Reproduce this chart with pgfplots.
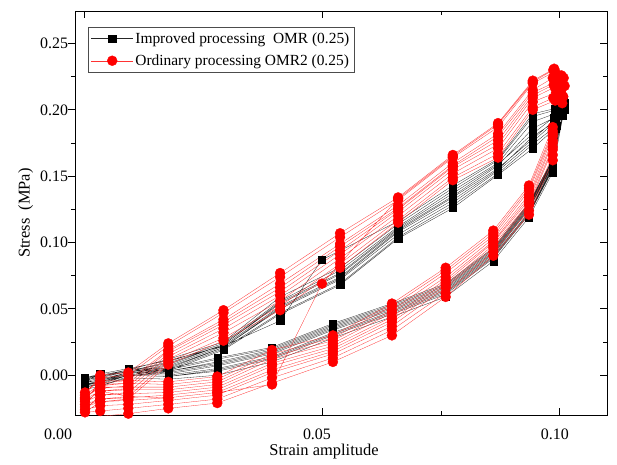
\documentclass[border=0pt]{standalone}
\usepackage{fontspec}
\setmainfont{Liberation Serif}
\usepackage{pgfplots}
\pgfplotsset{compat=1.18}
\begin{document}
\begin{tikzpicture}
\path[use as bounding box] (-75bp,-50bp) rectangle (542bp,415bp);
\begin{axis}[
  scale only axis, width=532bp, height=404bp,
  xmin=-0.0019, xmax=0.1099, ymin=-0.030, ymax=0.2745,
  xtick={0.05,0.1}, ytick={0,0.05,0.10,0.15,0.20,0.25},
  extra x ticks={0},
  extra x tick style={xticklabel style={xshift=-21bp}},
  minor tick num=1,
  xtick align=inside, ytick align=center,
  major tick length=7bp, minor tick length=4bp,
  every major y tick/.append style={xshift=-3.5bp},
  every minor y tick/.append style={xshift=-2bp},
  every tick/.append style={black, line width=0.8bp},
  axis line style={line width=0.9bp},
  /pgf/number format/assume math mode=true,
  /pgf/number format/fixed,
  /pgf/number format/fixed zerofill,
  /pgf/number format/precision=2,
  xticklabel style={yshift=-10bp, xshift=-5bp},
  tick label style={font=\fontsize{16}{19}\selectfont},
  label style={font=\fontsize{16.5}{19}\selectfont},
  xlabel style={xshift=-17bp, yshift=2bp},
  xlabel={Strain amplitude}, ylabel={Stress\ \ (MPa)},
  legend style={at={(axis description cs:0.024,0.96)}, anchor=north west,
    draw=black!70, line width=0.6bp, font=\fontsize{15.5}{18}\selectfont,
    inner sep=3bp, row sep=6bp},
  legend cell align=left,
  legend image code/.code={\draw[mark repeat=2,mark phase=2] plot coordinates {(0bp,0bp)(21bp,0bp)(42bp,0bp)};},
]
\addplot[black!85, line width=0.3bp, mark=square*, mark size=3.6bp, mark options={solid, fill=black, draw=black}] coordinates {
(0.0002,-0.005)
(0.0034,0.001)(0.0093,0.005)(0.0177,0.011)(0.0293,0.022)(0.0412,0.041)(0.0500,0.087)(0.0660,0.116)(0.0775,0.143)(0.0870,0.163)(0.0943,0.197)(0.0990,0.201)(0.1005,0.210)(0.0985,0.163)(0.0935,0.130)(0.0860,0.096)(0.0760,0.069)(0.0647,0.054)(0.0523,0.039)(0.0395,0.021)(0.0280,0.013)(0.0177,0.005)(0.0093,0.005)(0.0034,0.001)(0.0002,-0.002)
(0.0034,0.000)(0.0093,0.004)(0.0177,0.012)(0.0293,0.025)(0.0412,0.059)(0.0538,0.081)(0.0660,0.114)(0.0775,0.141)(0.0870,0.162)(0.0943,0.195)(0.0992,0.200)(0.1008,0.208)(0.0985,0.161)(0.0935,0.128)(0.0860,0.094)(0.0760,0.067)(0.0647,0.052)(0.0523,0.037)(0.0395,0.019)(0.0280,0.010)(0.0177,0.003)(0.0093,0.004)(0.0034,-0.001)(0.0002,-0.004)
(0.0034,-0.001)(0.0093,0.003)(0.0177,0.010)(0.0293,0.024)(0.0412,0.056)(0.0538,0.079)(0.0660,0.112)(0.0775,0.139)(0.0870,0.160)(0.0943,0.191)(0.0989,0.197)(0.1002,0.206)(0.0985,0.162)(0.0935,0.129)(0.0860,0.095)(0.0760,0.068)(0.0647,0.053)(0.0523,0.038)(0.0395,0.020)(0.0280,0.012)(0.0177,0.004)(0.0093,0.004)(0.0034,0.000)(0.0002,-0.003)
(0.0034,-0.002)(0.0093,0.003)(0.0177,0.009)(0.0293,0.023)(0.0412,0.055)(0.0538,0.077)(0.0660,0.111)(0.0775,0.137)(0.0870,0.159)(0.0943,0.182)(0.0993,0.196)(0.1010,0.205)(0.0985,0.159)(0.0935,0.126)(0.0860,0.092)(0.0760,0.065)(0.0647,0.050)(0.0523,0.035)(0.0395,0.017)(0.0280,0.008)(0.0177,0.002)(0.0093,0.002)(0.0034,-0.003)(0.0002,-0.006)
(0.0034,-0.003)(0.0093,0.002)(0.0177,0.008)(0.0293,0.023)(0.0412,0.054)(0.0538,0.076)(0.0660,0.110)(0.0775,0.135)(0.0870,0.158)(0.0943,0.186)(0.0988,0.194)(0.0998,0.204)(0.0985,0.160)(0.0935,0.127)(0.0860,0.093)(0.0760,0.066)(0.0647,0.051)(0.0523,0.036)(0.0395,0.018)(0.0280,0.009)(0.0177,0.003)(0.0093,0.003)(0.0034,-0.002)(0.0002,-0.005)
(0.0034,-0.004)(0.0093,0.002)(0.0177,0.007)(0.0293,0.022)(0.0412,0.052)(0.0538,0.074)(0.0660,0.109)(0.0775,0.134)(0.0870,0.156)(0.0943,0.178)(0.0991,0.193)(0.1005,0.202)(0.0985,0.157)(0.0935,0.123)(0.0860,0.090)(0.0760,0.063)(0.0647,0.048)(0.0523,0.032)(0.0395,0.014)(0.0280,0.005)(0.0177,0.000)(0.0093,0.001)(0.0034,-0.004)(0.0002,-0.007)
(0.0034,-0.005)(0.0093,0.001)(0.0177,0.006)(0.0293,0.021)(0.0412,0.051)(0.0538,0.073)(0.0660,0.108)(0.0775,0.132)(0.0870,0.155)(0.0943,0.180)(0.0990,0.191)(0.1003,0.201)(0.0985,0.158)(0.0935,0.125)(0.0860,0.091)(0.0760,0.064)(0.0647,0.049)(0.0523,0.034)(0.0395,0.016)(0.0280,0.007)(0.0177,0.001)(0.0093,0.002)(0.0034,-0.004)(0.0002,-0.007)
(0.0034,-0.006)(0.0093,0.000)(0.0177,0.005)(0.0293,0.021)(0.0412,0.050)(0.0538,0.072)(0.0660,0.106)(0.0775,0.130)(0.0870,0.154)(0.0943,0.176)(0.0987,0.190)(0.1009,0.200)(0.0985,0.155)(0.0935,0.121)(0.0860,0.088)(0.0760,0.061)(0.0647,0.046)(0.0523,0.030)(0.0395,0.012)(0.0280,0.003)(0.0177,-0.001)(0.0093,0.000)(0.0034,-0.006)(0.0002,-0.009)
(0.0034,-0.007)(0.0093,0.000)(0.0177,0.004)(0.0293,0.020)(0.0412,0.047)(0.0538,0.069)(0.0660,0.104)(0.0775,0.128)(0.0870,0.152)(0.0943,0.174)(0.0992,0.188)(0.1000,0.197)(0.0985,0.156)(0.0935,0.122)(0.0860,0.089)(0.0760,0.062)(0.0647,0.047)(0.0523,0.031)(0.0395,0.013)(0.0280,0.004)(0.0177,-0.001)(0.0093,0.000)(0.0034,-0.005)(0.0002,-0.008)
(0.0034,-0.008)(0.0093,-0.001)(0.0177,0.003)(0.0293,0.019)(0.0412,0.046)(0.0538,0.068)(0.0660,0.103)(0.0775,0.126)(0.0870,0.151)(0.0943,0.171)(0.0990,0.186)(0.1006,0.196)(0.0985,0.153)(0.0935,0.119)(0.0860,0.086)(0.0760,0.059)(0.0647,0.044)(0.0523,0.028)(0.0395,0.010)(0.0280,0.000)(0.0177,-0.003)(0.0093,-0.002)(0.0034,-0.008)(0.0002,-0.011)
};
\addlegendentry{Improved processing\ \ OMR (0.25)}
\addplot[red!80, line width=0.3bp, mark=*, mark size=5bp, mark options={solid, fill=red, draw=red}] coordinates {
(0.0002,-0.018)
(0.0034,-0.012)(0.0093,-0.016)(0.0177,-0.017)(0.0280,-0.013)(0.0395,-0.007)(0.0500,0.069)(0.0660,0.133)(0.0775,0.165)(0.0870,0.189)(0.0943,0.221)(0.0986,0.230)(0.1005,0.225)(0.0985,0.184)(0.0935,0.141)(0.0860,0.107)(0.0760,0.079)(0.0647,0.052)(0.0523,0.028)(0.0395,0.016)(0.0280,-0.003)(0.0177,-0.007)(0.0093,-0.006)(0.0034,-0.007)(0.0002,-0.015)
(0.0034,0.000)(0.0093,0.002)(0.0177,0.024)(0.0293,0.049)(0.0412,0.077)(0.0538,0.107)(0.0660,0.134)(0.0775,0.166)(0.0870,0.190)(0.0943,0.222)(0.0988,0.231)(0.1003,0.226)(0.0985,0.187)(0.0935,0.143)(0.0860,0.109)(0.0760,0.081)(0.0647,0.054)(0.0523,0.030)(0.0395,0.019)(0.0280,-0.001)(0.0177,-0.005)(0.0093,-0.004)(0.0034,-0.004)(0.0002,-0.013)
(0.0034,-0.002)(0.0093,0.000)(0.0177,0.022)(0.0293,0.047)(0.0412,0.074)(0.0538,0.104)(0.0660,0.132)(0.0775,0.164)(0.0870,0.187)(0.0943,0.220)(0.0990,0.229)(0.1008,0.224)(0.0985,0.180)(0.0935,0.136)(0.0860,0.103)(0.0760,0.074)(0.0647,0.047)(0.0523,0.024)(0.0395,0.012)(0.0280,-0.007)(0.0177,-0.011)(0.0093,-0.011)(0.0034,-0.012)(0.0002,-0.018)
(0.0034,-0.006)(0.0093,-0.004)(0.0177,0.019)(0.0293,0.042)(0.0412,0.069)(0.0538,0.099)(0.0660,0.128)(0.0775,0.160)(0.0870,0.182)(0.0943,0.215)(0.0985,0.224)(0.1000,0.220)(0.0985,0.182)(0.0935,0.139)(0.0860,0.105)(0.0760,0.077)(0.0647,0.049)(0.0523,0.026)(0.0395,0.014)(0.0280,-0.005)(0.0177,-0.009)(0.0093,-0.009)(0.0034,-0.009)(0.0002,-0.017)
(0.0034,-0.008)(0.0093,-0.006)(0.0177,0.018)(0.0293,0.040)(0.0412,0.066)(0.0538,0.097)(0.0660,0.126)(0.0775,0.158)(0.0870,0.180)(0.0943,0.213)(0.0991,0.221)(0.1010,0.218)(0.0985,0.175)(0.0935,0.132)(0.0860,0.100)(0.0760,0.070)(0.0647,0.042)(0.0523,0.020)(0.0395,0.007)(0.0280,-0.011)(0.0177,-0.015)(0.0093,-0.017)(0.0034,-0.018)(0.0002,-0.022)
(0.0034,-0.010)(0.0093,-0.008)(0.0177,0.016)(0.0293,0.038)(0.0412,0.063)(0.0538,0.094)(0.0660,0.125)(0.0775,0.157)(0.0870,0.177)(0.0943,0.211)(0.0987,0.219)(0.1004,0.216)(0.0985,0.177)(0.0935,0.134)(0.0860,0.101)(0.0760,0.072)(0.0647,0.044)(0.0523,0.022)(0.0395,0.009)(0.0280,-0.009)(0.0177,-0.013)(0.0093,-0.014)(0.0034,-0.015)(0.0002,-0.020)
(0.0034,-0.012)(0.0093,-0.010)(0.0177,0.014)(0.0293,0.035)(0.0412,0.060)(0.0538,0.091)(0.0660,0.123)(0.0775,0.155)(0.0870,0.174)(0.0943,0.209)(0.0989,0.217)(0.1002,0.213)(0.0985,0.170)(0.0935,0.128)(0.0860,0.096)(0.0760,0.066)(0.0647,0.037)(0.0523,0.016)(0.0395,0.002)(0.0280,-0.015)(0.0177,-0.019)(0.0093,-0.022)(0.0034,-0.023)(0.0002,-0.026)
(0.0034,-0.015)(0.0093,-0.013)(0.0177,0.012)(0.0293,0.032)(0.0412,0.056)(0.0538,0.088)(0.0660,0.120)(0.0775,0.152)(0.0870,0.171)(0.0943,0.206)(0.0992,0.213)(0.1007,0.210)(0.0985,0.172)(0.0935,0.130)(0.0860,0.098)(0.0760,0.068)(0.0647,0.040)(0.0523,0.018)(0.0395,0.004)(0.0280,-0.013)(0.0177,-0.017)(0.0093,-0.019)(0.0034,-0.020)(0.0002,-0.024)
(0.0034,-0.018)(0.0093,-0.016)(0.0177,0.010)(0.0293,0.028)(0.0412,0.052)(0.0538,0.084)(0.0660,0.117)(0.0775,0.149)(0.0870,0.167)(0.0943,0.202)(0.0986,0.209)(0.0999,0.207)(0.0985,0.166)(0.0935,0.124)(0.0860,0.093)(0.0760,0.062)(0.0647,0.034)(0.0523,0.013)(0.0395,-0.002)(0.0280,-0.018)(0.0177,-0.022)(0.0093,-0.025)(0.0034,-0.027)(0.0002,-0.028)
(0.0034,-0.020)(0.0093,-0.018)(0.0177,0.008)(0.0293,0.026)(0.0412,0.049)(0.0538,0.081)(0.0660,0.115)(0.0775,0.147)(0.0870,0.164)(0.0943,0.200)(0.0990,0.207)(0.1005,0.205)(0.0985,0.162)(0.0935,0.121)(0.0860,0.090)(0.0760,0.059)(0.0647,0.030)(0.0523,0.010)(0.0395,-0.006)(0.0280,-0.021)(0.0177,-0.025)(0.0093,-0.029)(0.0034,-0.031)(0.0002,-0.031)
};
\addlegendentry{Ordinary processing OMR2 (0.25)}
\end{axis}
\end{tikzpicture}
\end{document}
